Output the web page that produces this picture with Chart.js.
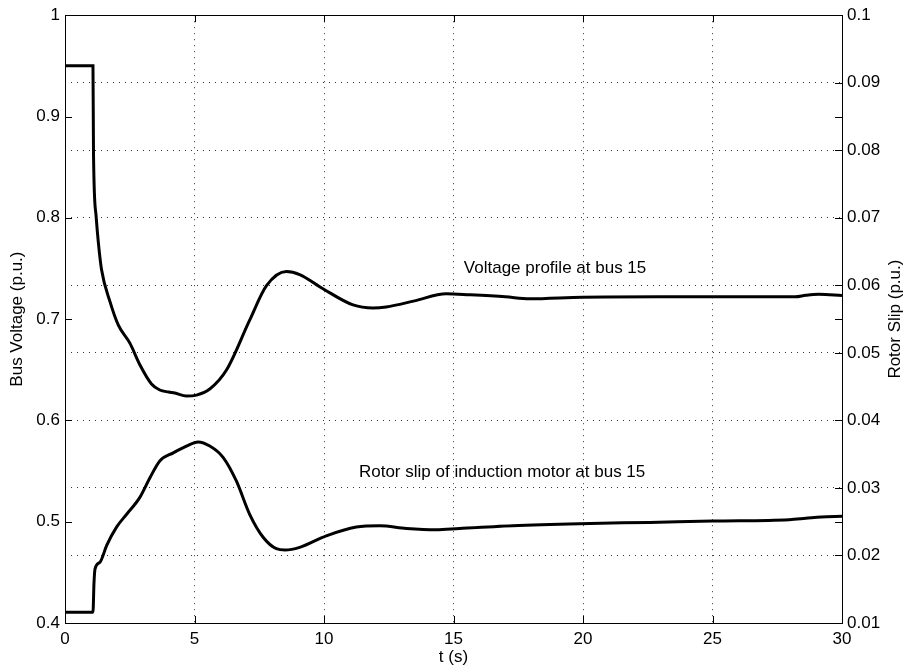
<!DOCTYPE html>
<html>
<head>
<meta charset="utf-8">
<script src="https://cdn.jsdelivr.net/npm/chart.js@4"></script>
<style>
  html, body { margin: 0; padding: 0; background: #fff; }
  #wrap { width: 906px; height: 670px; }
</style>
</head>
<body>
<div id="wrap"><canvas id="myChart" width="906" height="670"></canvas></div>
<script>
// time (s) and bus voltage (p.u.), left axis
const voltTime = [0, 1.08, 1.1, 1.2, 1.29, 1.41, 1.74, 2.06, 2.51, 2.89, 3.34, 3.66, 4.0, 4.24, 4.69, 5.08, 5.59, 6.24, 7.13, 7.78, 8.55, 9.06, 9.96, 11.12, 11.89, 12.4, 13.5, 14.72, 15.62, 17.0, 17.93, 19.99, 22.95, 25, 28.2, 28.6, 29.1, 30];
const voltValues = [0.95, 0.95, 0.864, 0.802, 0.775, 0.749, 0.717, 0.694, 0.676, 0.655, 0.636, 0.630, 0.628, 0.627, 0.624, 0.625, 0.631, 0.650, 0.699, 0.733, 0.747, 0.744, 0.730, 0.714, 0.711, 0.712, 0.718, 0.725, 0.724, 0.722, 0.720, 0.7216, 0.722, 0.722, 0.722, 0.7235, 0.7245, 0.7232];

// time (s) and rotor slip (p.u.), right axis
const slipTime = [0, 1.08, 1.12, 1.16, 1.35, 1.61, 1.99, 2.38, 2.89, 3.28, 3.66, 4.18, 4.69, 5.14, 5.59, 6.11, 6.62, 7.13, 7.65, 8.16, 8.5, 9.06, 10.09, 11.25, 12.15, 13.18, 14.33, 15.23, 17.29, 19.86, 22.56, 25, 27.96, 28.6, 29.2, 30];
const slipValues = [0.0116, 0.0116, 0.0160, 0.0180, 0.0190, 0.0215, 0.0242, 0.0261, 0.0286, 0.0315, 0.0340, 0.0352, 0.0362, 0.0368, 0.0362, 0.0345, 0.0310, 0.0261, 0.0227, 0.0210, 0.0208, 0.0212, 0.0229, 0.0242, 0.0244, 0.0240, 0.0238, 0.0240, 0.0244, 0.0247, 0.0249, 0.0251, 0.0253, 0.0255, 0.0257, 0.0258];

const voltLabel = 'Voltage profile at bus 15';
const slipLabel = 'Rotor slip of induction motor at bus 15';

const FONT = 'Liberation Sans, Arial, Helvetica, sans-serif';

function toPoints(xs, ys) {
  return xs.map((x, i) => ({x: x, y: ys[i]}));
}

// inward ticks, box, right title and the two text labels
const framePlugin = {
  id: 'frame',
  afterDraw(chart) {
    const ctx = chart.ctx;
    const a = chart.chartArea;
    const xs = chart.scales.x, yl = chart.scales.y, yr = chart.scales.y1;
    const len = 7;
    ctx.save();
    ctx.strokeStyle = '#000';
    ctx.lineWidth = 1;
    ctx.beginPath();
    xs.ticks.forEach(t => {
      const px = Math.round(xs.getPixelForValue(t.value)) + 0.5;
      ctx.moveTo(px, a.bottom); ctx.lineTo(px, a.bottom - len);
      ctx.moveTo(px, a.top); ctx.lineTo(px, a.top + len);
    });
    yl.ticks.forEach(t => {
      const py = Math.round(yl.getPixelForValue(t.value)) + 0.5;
      ctx.moveTo(a.left, py); ctx.lineTo(a.left + len, py);
      ctx.moveTo(a.right, py); ctx.lineTo(a.right - len, py);
    });
    yr.ticks.forEach(t => {
      const py = Math.round(yr.getPixelForValue(t.value)) + 0.5;
      ctx.moveTo(a.right, py); ctx.lineTo(a.right - len, py);
    });
    ctx.stroke();
    ctx.strokeRect(Math.round(a.left) + 0.5, Math.round(a.top) + 0.5, Math.round(a.right - a.left), Math.round(a.bottom - a.top));

    ctx.fillStyle = '#000';
    ctx.font = '17px ' + FONT;
    ctx.textAlign = 'center';
    ctx.textBaseline = 'middle';
    ctx.translate(895, (a.top + a.bottom) / 2);
    ctx.rotate(-Math.PI / 2);
    ctx.fillText('Rotor Slip (p.u.)', 0, 0);
    ctx.restore();

    ctx.save();
    ctx.fillStyle = '#000';
    ctx.font = '17px ' + FONT;
    ctx.textAlign = 'left';
    ctx.textBaseline = 'middle';
    ctx.fillText(voltLabel, xs.getPixelForValue(15.4), yl.getPixelForValue(0.75));
    ctx.fillText(slipLabel, xs.getPixelForValue(11.35), yl.getPixelForValue(0.549));
    ctx.restore();
  }
};

const ctx = document.getElementById('myChart').getContext('2d');
const myChart = new Chart(ctx, {
  type: 'line',
  data: {
    datasets: [{
      label: 'Bus voltage',
      data: toPoints(voltTime, voltValues),
      yAxisID: 'y',
      borderColor: '#000',
      borderWidth: 3,
      pointRadius: 0,
      cubicInterpolationMode: 'monotone',
      fill: false
    }, {
      label: 'Rotor slip',
      data: toPoints(slipTime, slipValues),
      yAxisID: 'y1',
      borderColor: '#000',
      borderWidth: 3,
      pointRadius: 0,
      cubicInterpolationMode: 'monotone',
      fill: false
    }]
  },
  options: {
    responsive: false,
    animation: false,
    layout: {autoPadding: false, padding: {top: 11}},
    plugins: {legend: {display: false}, tooltip: {enabled: false}},
    scales: {
      x: {
        type: 'linear',
        min: 0, max: 30,
        afterFit(scale) { scale.height = 47; },
        ticks: {stepSize: 5, padding: 6, color: '#000', font: {family: FONT, size: 17}, maxRotation: 0},
        grid: {drawTicks: false, color: 'rgba(0,0,0,0.8)', lineWidth: 1},
        border: {display: false, dash: [1, 5]},
        title: {display: true, text: 't (s)', color: '#000', font: {family: FONT, size: 17}, padding: {top: 0, bottom: 2}}
      },
      y: {
        position: 'left',
        min: 0.4, max: 1,
        afterFit(scale) { scale.width = 65; },
        ticks: {stepSize: 0.1, padding: 5, color: '#000', font: {family: FONT, size: 17},
          callback: v => Number(v.toFixed(1)).toString()},
        grid: {display: false, drawTicks: false},
        border: {display: false},
        title: {display: true, text: 'Bus Voltage (p.u.)', color: '#000', font: {family: FONT, size: 17}, padding: {top: 7, bottom: 0}}
      },
      y1: {
        position: 'right',
        min: 0.01, max: 0.1,
        afterFit(scale) { scale.width = 64; },
        ticks: {stepSize: 0.01, padding: 5, color: '#000', font: {family: FONT, size: 17},
          callback: v => Number(v.toFixed(2)).toString()},
        grid: {drawTicks: false, color: 'rgba(0,0,0,0.8)', lineWidth: 1},
        border: {display: false, dash: [1, 5]}
      }
    }
  },
  plugins: [framePlugin]
});
</script>
</body>
</html>
